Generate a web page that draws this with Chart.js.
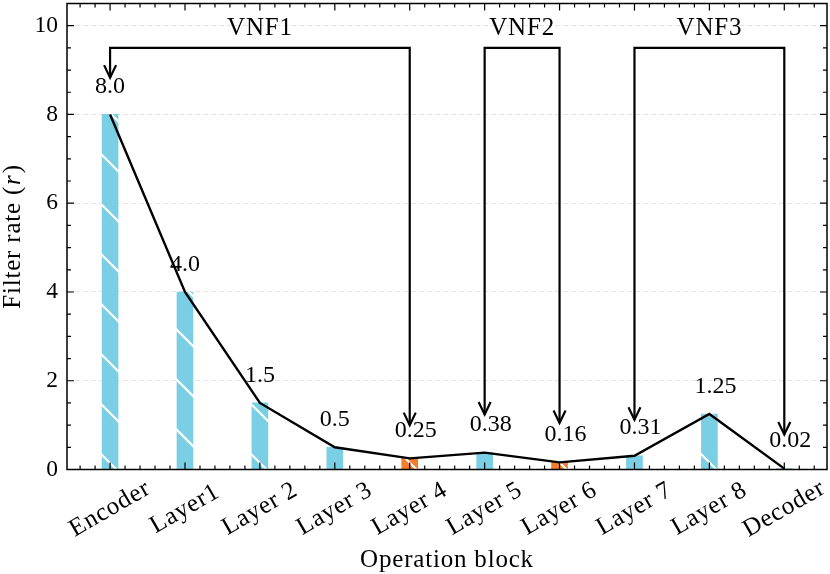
<!DOCTYPE html>
<html lang="en">
<head>
<meta charset="UTF-8">
<title>Filter rate per operation block</title>
<script src="https://cdn.jsdelivr.net/npm/chart.js"></script>
<style>
  html, body { margin: 0; padding: 0; background: #fff; }
  #wrap { width: 830px; height: 574px; }
</style>
</head>
<body>
<div id="wrap"><canvas id="rateChart" width="830" height="574"></canvas></div>
<script>
const blocks = ['Encoder', 'Layer1', 'Layer 2', 'Layer 3', 'Layer 4', 'Layer 5', 'Layer 6', 'Layer 7', 'Layer 8', 'Decoder'];
const filterRates = [8.0, 4.0, 1.5, 0.5, 0.25, 0.38, 0.16, 0.31, 1.25, 0.02];
const rateLabels = ['8.0', '4.0', '1.5', '0.5', '0.25', '0.38', '0.16', '0.31', '1.25', '0.02'];
const splitBlocks = ['Layer 4', 'Layer 6'];   // drawn in orange
const yTicks = [0, 2, 4, 6, 8, 10];

// VNF brackets: first and last block, heights of the arrow tips
const vnfNames = ['VNF1', 'VNF2', 'VNF3'];
const vnfStart = ['Encoder', 'Layer 5', 'Layer 7'];
const vnfEnd = ['Layer 4', 'Layer 6', 'Decoder'];
const vnfStartTip = [8.83, 1.24, 1.12];
const vnfEndTip = [1.0, 1.05, 0.79];
const vnfTop = 9.5;
const vnfLabelY = 9.78;

const SERIF = "'Liberation Serif', 'DejaVu Serif', serif";
const TICK_SIZE = 23.5;
const WORD_FONT = '25px ' + SERIF;
const NUM_FONT = '24px ' + SERIF;
const BLUE = '#7bcfe4';
const ORANGE = '#f27d2d';

// white "\\" hatch, tiled from the canvas origin like matplotlib does
function hatch(color) {
    const tile = document.createElement('canvas');
    tile.width = 50;
    tile.height = 50;
    const t = tile.getContext('2d');
    t.fillStyle = color;
    t.fillRect(0, 0, 50, 50);
    t.strokeStyle = '#fff';
    t.lineWidth = 2.2;
    for (let k = -1; k <= 2; k++) {
        t.beginPath();
        t.moveTo(0, -47 + 50 * k);
        t.lineTo(50, 3 + 50 * k);
        t.stroke();
    }
    return t.createPattern(tile, 'repeat');
}

const bluePattern = hatch(BLUE);
const orangePattern = hatch(ORANGE);

const points = filterRates.map((v, i) => ({ x: i, y: v }));

function drawArrowHead(ctx, x, y) {
    ctx.beginPath();
    ctx.moveTo(x - 6, y - 12.5);
    ctx.lineTo(x, y);
    ctx.lineTo(x + 6, y - 12.5);
    ctx.stroke();
}

const decorations = {
    id: 'decorations',
    afterDatasetsDraw(chart) {
        const ctx = chart.ctx;
        const xs = chart.scales.x;
        const ys = chart.scales.y;
        ctx.save();

        // value labels
        ctx.fillStyle = '#000';
        ctx.font = NUM_FONT;
        ctx.textAlign = 'left';
        ctx.textBaseline = 'alphabetic';
        filterRates.forEach((v, i) => {
            ctx.fillText(rateLabels[i], xs.getPixelForValue(i) - 15, ys.getPixelForValue(v + 0.66) + 8);
        });

        // VNF brackets with arrows
        ctx.strokeStyle = '#000';
        ctx.lineWidth = 2.2;
        ctx.lineJoin = 'miter';
        ctx.lineCap = 'butt';
        ctx.font = WORD_FONT;
        ctx.letterSpacing = '0.8px';
        vnfNames.forEach((name, k) => {
            const x0 = xs.getPixelForValue(blocks.indexOf(vnfStart[k]));
            const x1 = xs.getPixelForValue(blocks.indexOf(vnfEnd[k]));
            const yTop = ys.getPixelForValue(vnfTop);
            const y0 = ys.getPixelForValue(vnfStartTip[k]);
            const y1 = ys.getPixelForValue(vnfEndTip[k]);
            ctx.beginPath();
            ctx.moveTo(x0, y0);
            ctx.lineTo(x0, yTop);
            ctx.lineTo(x1, yTop);
            ctx.lineTo(x1, y1);
            ctx.stroke();
            drawArrowHead(ctx, x0, y0);
            drawArrowHead(ctx, x1, y1);
            ctx.textAlign = 'center';
            ctx.fillText(name, (x0 + x1) / 2, ys.getPixelForValue(vnfLabelY));
        });
        ctx.restore();
    },
    afterDraw(chart) {
        const ctx = chart.ctx;
        const area = chart.chartArea;
        const xs = chart.scales.x;
        const ys = chart.scales.y;
        ctx.save();
        ctx.strokeStyle = '#000';

        // inward ticks on all four sides
        ctx.lineWidth = 1.2;
        ctx.beginPath();
        for (let v = Math.ceil(xs.min / 0.2) * 0.2; v <= xs.max + 1e-9; v += 0.2) {
            const major = Math.abs(v - Math.round(v)) < 1e-6;
            const len = major ? 7 : 4;
            const px = xs.getPixelForValue(v);
            ctx.moveTo(px, area.bottom);
            ctx.lineTo(px, area.bottom - len);
            ctx.moveTo(px, area.top);
            ctx.lineTo(px, area.top + len);
        }
        for (let v = 0; v <= ys.max + 1e-9; v += 0.5) {
            const major = Math.abs(v / 2 - Math.round(v / 2)) < 1e-6;
            const len = major ? 7 : 4;
            const py = ys.getPixelForValue(v);
            ctx.moveTo(area.left, py);
            ctx.lineTo(area.left + len, py);
            ctx.moveTo(area.right, py);
            ctx.lineTo(area.right - len, py);
        }
        ctx.stroke();

        // frame
        ctx.lineWidth = 1.5;
        ctx.strokeRect(area.left, area.top, area.right - area.left, area.bottom - area.top);

        // rotated category labels, centred under each tick
        ctx.fillStyle = '#000';
        ctx.font = WORD_FONT;
        ctx.letterSpacing = '0.8px';
        ctx.textAlign = 'center';
        ctx.textBaseline = 'middle';
        blocks.forEach((name, i) => {
            ctx.save();
            ctx.translate(xs.getPixelForValue(i), 509);
            ctx.rotate(-Math.PI / 6);
            ctx.fillText(name, 0, 0);
            ctx.restore();
        });

        // x axis title
        ctx.textBaseline = 'alphabetic';
        ctx.fillText('Operation block', (area.left + area.right) / 2, 567);

        // y axis title with italic r
        const partA = 'Filter rate (';
        const partB = 'r';
        const partC = ')';
        const italic = 'italic ' + WORD_FONT;
        ctx.font = WORD_FONT;
        const wA = ctx.measureText(partA).width;
        const wC = ctx.measureText(partC).width;
        ctx.font = italic;
        const wB = ctx.measureText(partB).width + 2;
        const total = wA + wB + wC;
        ctx.translate(20, (area.top + area.bottom) / 2);
        ctx.rotate(-Math.PI / 2);
        ctx.textAlign = 'left';
        let cx = -total / 2;
        ctx.font = WORD_FONT;
        ctx.fillText(partA, cx, 0);
        cx += wA;
        ctx.font = italic;
        ctx.fillText(partB, cx + 1, 0);
        cx += wB;
        ctx.font = WORD_FONT;
        ctx.fillText(partC, cx, 0);
        ctx.restore();
    }
};

Chart.defaults.font.family = SERIF;
Chart.defaults.color = '#000';

new Chart(document.getElementById('rateChart'), {
    type: 'bar',
    data: {
        datasets: [
            {
                type: 'line',
                label: 'Filter rate',
                data: points,
                borderColor: '#000',
                borderWidth: 2.4,
                pointRadius: 0,
                tension: 0,
                order: 0
            },
            {
                type: 'bar',
                label: 'Filter rate bars',
                data: points,
                backgroundColor: blocks.map(b => splitBlocks.includes(b) ? orangePattern : bluePattern),
                borderWidth: 0,
                barThickness: 16,
                order: 1
            }
        ]
    },
    options: {
        responsive: false,
        animation: false,
        layout: { padding: { top: 3.5, right: 3, left: 0, bottom: 0 } },
        plugins: {
            legend: { display: false },
            tooltip: { enabled: false }
        },
        scales: {
            x: {
                type: 'linear',
                offset: false,
                min: -0.575,
                max: 9.57,
                ticks: { display: false },
                grid: { display: false, drawTicks: false },
                border: { display: false },
                afterFit(scale) {
                    scale.height = 104.5;
                    scale.paddingLeft = 0;
                    scale.paddingRight = 0;
                }
            },
            y: {
                min: 0,
                max: 10.5,
                afterBuildTicks(scale) { scale.ticks = yTicks.map(v => ({ value: v })); },
                ticks: {
                    padding: 9,
                    color: '#000',
                    font: { family: SERIF, size: TICK_SIZE },
                    callback: v => String(v)
                },
                grid: { color: '#e4e4e4', lineWidth: 1, drawTicks: false },
                border: { display: false, dash: [5, 3] },
                afterFit(scale) {
                    scale.width = 67;
                    scale.paddingTop = 0;
                    scale.paddingBottom = 0;
                }
            }
        }
    },
    plugins: [decorations]
});
</script>
</body>
</html>
